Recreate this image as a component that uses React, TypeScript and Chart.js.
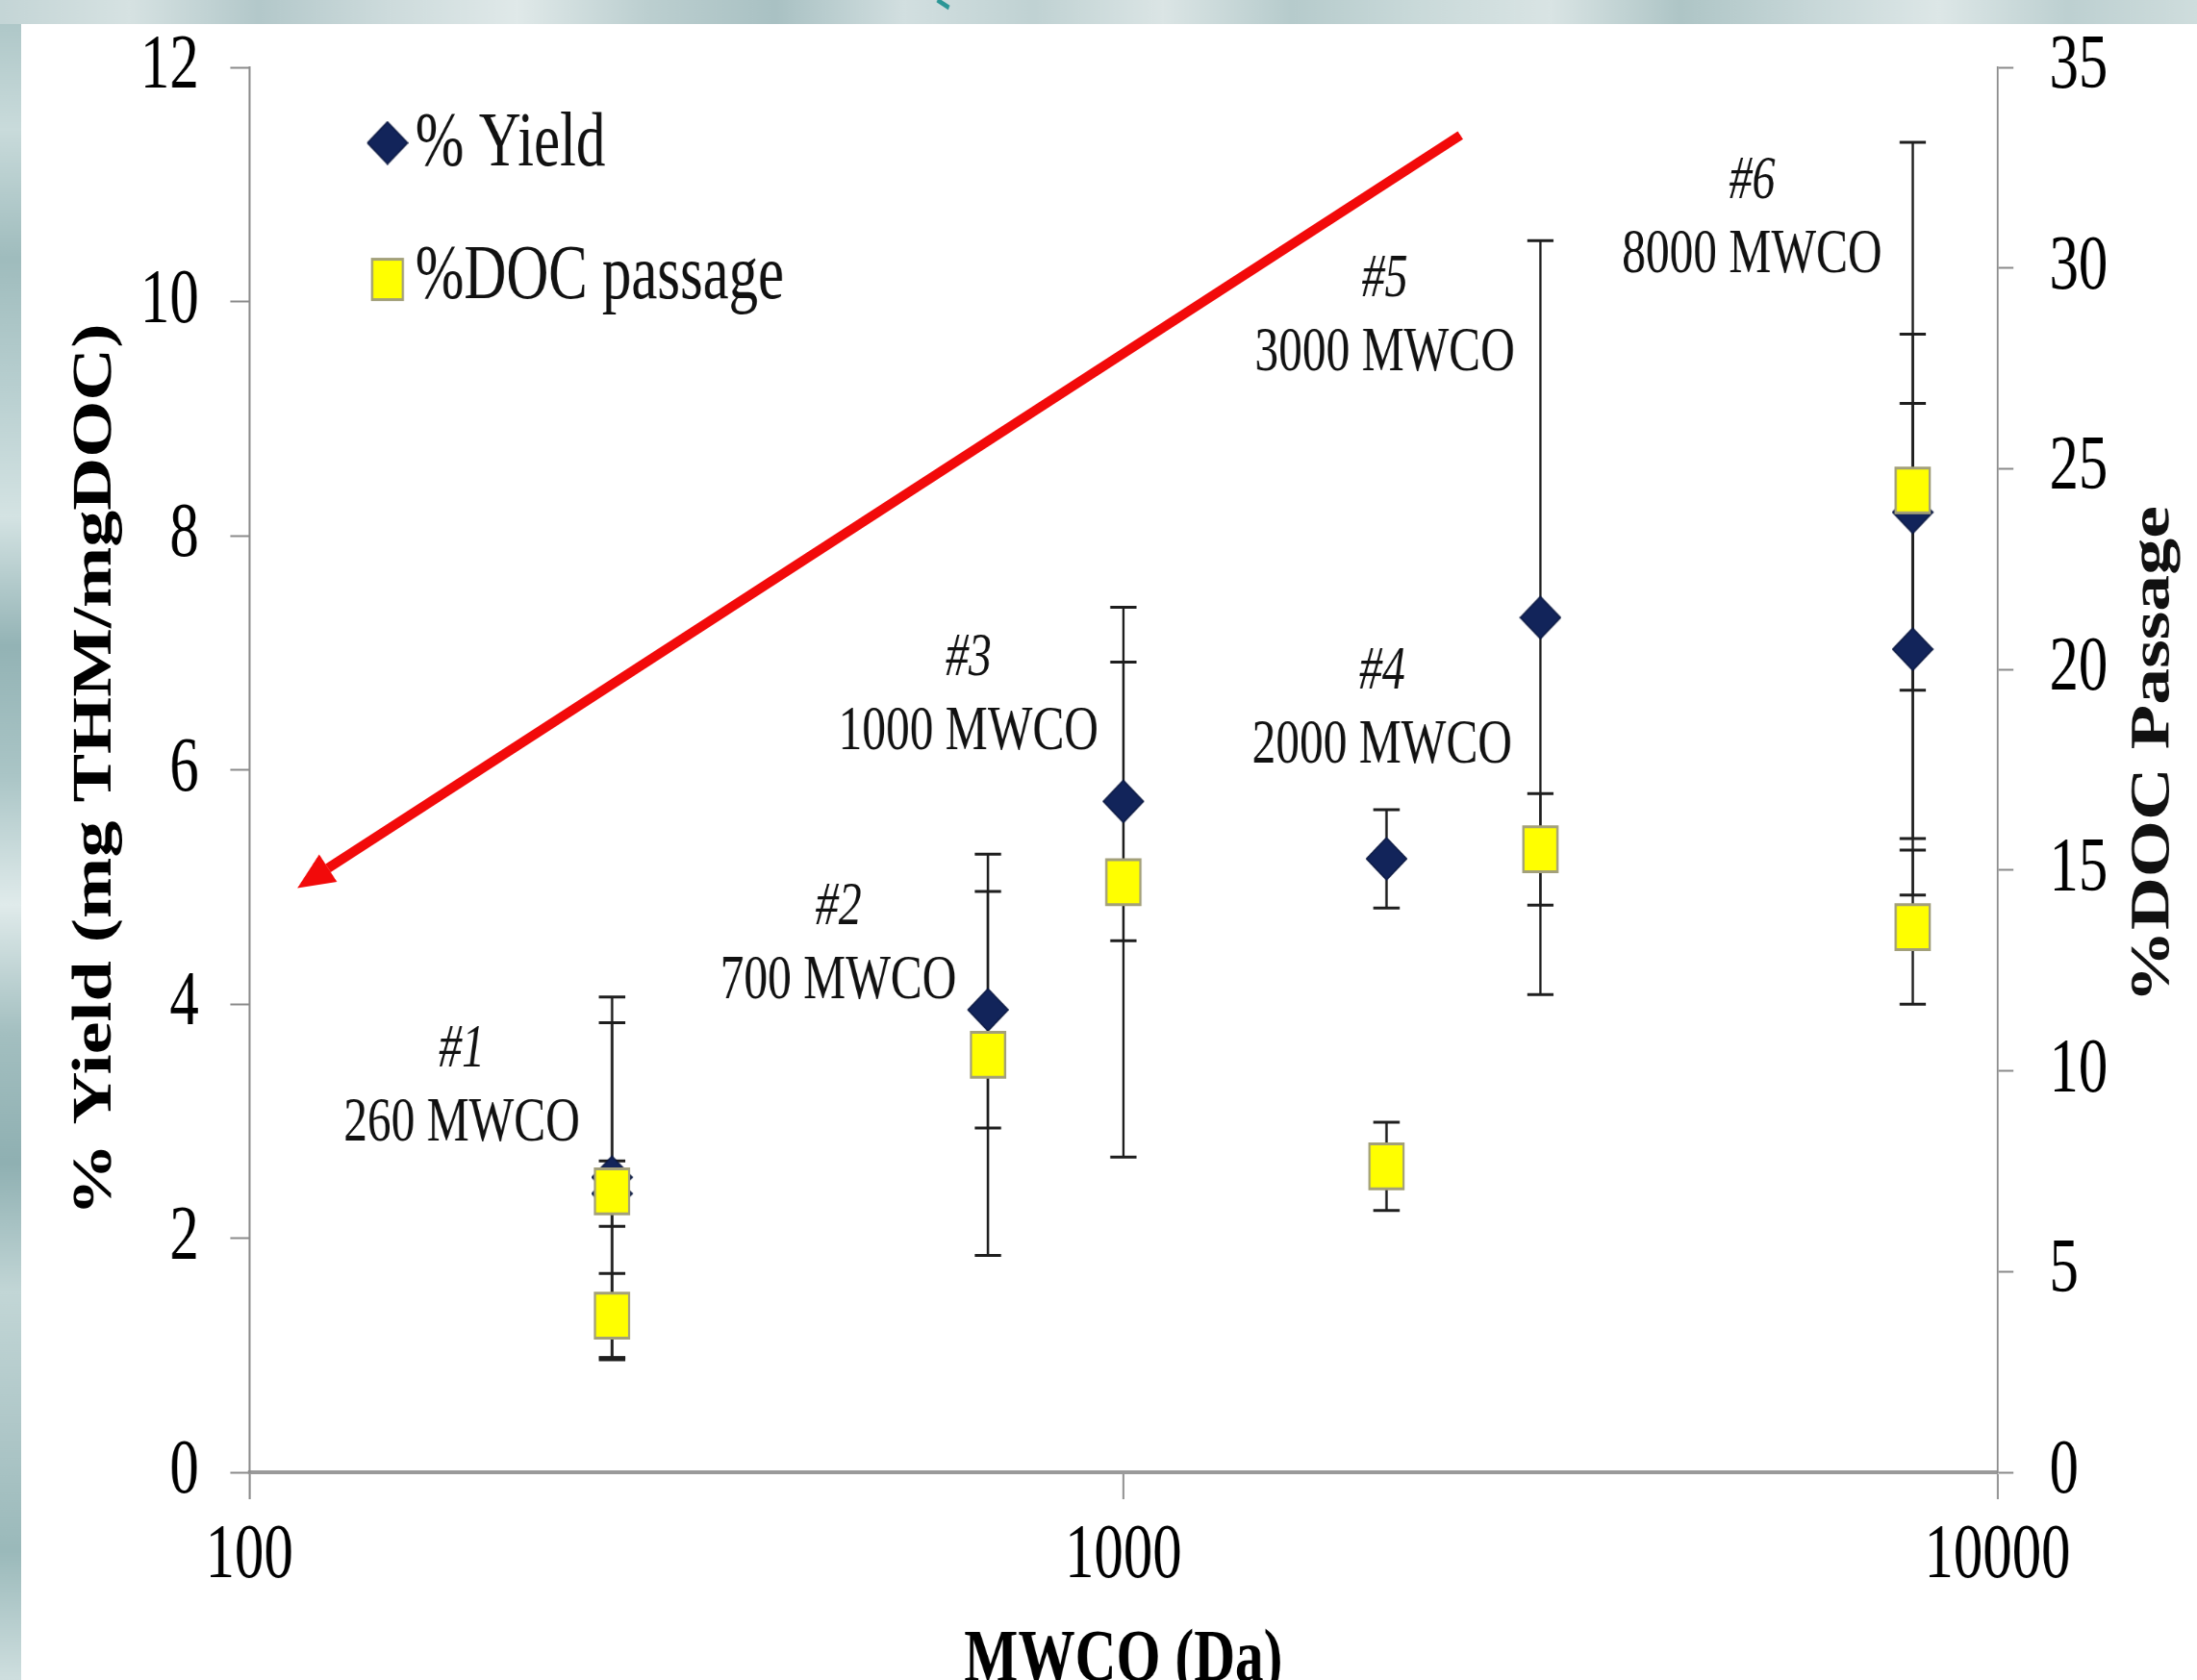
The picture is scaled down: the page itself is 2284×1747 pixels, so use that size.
import React, { useEffect, useRef } from 'react';
import { Chart, registerables } from 'chart.js';

Chart.register(...registerables);

const SERIF = '"Liberation Serif", "Times New Roman", Times, serif';

// The picture is horizontally condensed: draw on a wider canvas and squeeze it.
const CANVAS_W = 3005;
const CANVAS_H = 1747;
const SHOW_W = 2284;

// ---------------- data ----------------
const yieldMwco = [260, 260, 700, 1000, 2000, 3000, 8000, 8000];
const yieldPercent = [2.52, 2.38, 3.95, 5.73, 5.24, 7.3, 8.2, 7.03];
const yieldError = [1.54, 0.28, 1.01, 1.19, 0.42, 3.22, 1.52, 2.1];

const docMwco = [260, 260, 700, 1000, 2000, 3000, 8000, 8000];
const docPassage = [7.0, 3.9, 10.4, 14.7, 7.62, 15.52, 24.46, 13.58];
const docError = [4.2, 1.05, 5.0, 6.85, 1.1, 1.39, 8.67, 1.92];

const xTickValues = [100, 1000, 10000];

const membraneIds = ['#1', '#2', '#3', '#4', '#5', '#6'];
const membraneNames = ['260 MWCO', '700 MWCO', '1000 MWCO', '2000 MWCO', '3000 MWCO', '8000 MWCO'];

// annotation placement (data coordinates of the "MWCO" line baseline)
const labelPlacement = [
  { x: 175, y: 2.83 },
  { x: 472, y: 4.05 },
  { x: 665, y: 6.18 },
  { x: 1977, y: 6.06 },
  { x: 1991, y: 9.41 },
  { x: 5240, y: 10.25 },
];
const arrowPlacement = { from: { x: 2430, y: 11.42 }, to: { x: 113.5, y: 4.99 } };

const topTexture = ['#c4d5d6', '#d6e2e2', '#b3c8ca', '#cddbdc', '#e0e9e9', '#bccfd0', '#a9c1c3', '#d2dfe0', '#c0d2d3', '#dbe5e5', '#b6cbcc', '#cadada', '#d9e4e4', '#aec5c6', '#c7d7d8', '#dde7e7', '#bdd0d1', '#cfdddd'];
const leftTexture = ['#a9c3c4', '#c9dbdb', '#9fbcbd', '#b8cfd0', '#d4e3e3', '#93b3b5', '#aac5c6', '#e0ebeb', '#a3bfc0', '#8fb0b2', '#c2d6d6', '#b0c8c9', '#9ab9ba', '#cfdfdf'];

function makeDiamond(w: number, h: number, fill: string, stroke: string) {
  const c = document.createElement('canvas');
  c.width = w;
  c.height = h;
  const g = c.getContext('2d')!;
  g.beginPath();
  g.moveTo(w / 2, 1);
  g.lineTo(w - 1, h / 2);
  g.lineTo(w / 2, h - 1);
  g.lineTo(1, h / 2);
  g.closePath();
  g.fillStyle = fill;
  g.fill();
  g.strokeStyle = stroke;
  g.lineWidth = 1.5;
  g.stroke();
  return c;
}

const backgroundPlugin = {
  id: 'slideBackground',
  beforeDraw(chart: any) {
    const { ctx, width, height } = chart;
    ctx.save();
    const top = ctx.createLinearGradient(0, 0, width, 0);
    topTexture.forEach((c, i) => top.addColorStop(i / (topTexture.length - 1), c));
    ctx.fillStyle = top;
    ctx.fillRect(0, 0, width, height);
    const left = ctx.createLinearGradient(0, 0, 0, height);
    leftTexture.forEach((c, i) => left.addColorStop(i / (leftTexture.length - 1), c));
    ctx.fillStyle = left;
    ctx.fillRect(0, 25, 29, height);
    ctx.fillStyle = '#ffffff';
    ctx.fillRect(29, 25, width - 29, height - 25);
    ctx.strokeStyle = '#2b9696';
    ctx.lineWidth = 5;
    ctx.beginPath();
    ctx.moveTo(1282, 0);
    ctx.lineTo(1298, 8);
    ctx.stroke();
    ctx.restore();
  },
};

const errorBarPlugin = {
  id: 'errorBars',
  beforeDatasetsDraw(chart: any) {
    const { ctx } = chart;
    const xs = chart.scales.x;
    ctx.save();
    ctx.strokeStyle = '#1e1e1e';
    chart.data.datasets.forEach((ds: any) => {
      const ys = chart.scales[ds.yAxisID];
      ds.data.forEach((pt: any, i: number) => {
        const e = ds.errorBars[i];
        const px = xs.getPixelForValue(pt.x);
        const t = ys.getPixelForValue(pt.y + e);
        const b = ys.getPixelForValue(pt.y - e);
        ctx.lineWidth = 3.2;
        ctx.beginPath();
        ctx.moveTo(px, t);
        ctx.lineTo(px, b);
        ctx.stroke();
        ctx.lineWidth = 3;
        ctx.beginPath();
        ctx.moveTo(px - 18, t);
        ctx.lineTo(px + 18, t);
        ctx.moveTo(px - 18, b);
        ctx.lineTo(px + 18, b);
        ctx.stroke();
      });
    });
    ctx.restore();
  },
};

const annotationPlugin = {
  id: 'annotations',
  afterDraw(chart: any) {
    const { ctx, chartArea } = chart;
    const xs = chart.scales.x;
    const ys = chart.scales.y;
    ctx.save();

    // membrane labels
    ctx.fillStyle = '#111';
    ctx.textAlign = 'center';
    ctx.textBaseline = 'alphabetic';
    labelPlacement.forEach((p, i) => {
      const px = xs.getPixelForValue(p.x);
      const py = ys.getPixelForValue(p.y);
      ctx.font = `italic 63px ${SERIF}`;
      ctx.fillText(membraneIds[i], px, py - 77);
      ctx.font = `65px ${SERIF}`;
      ctx.fillText(membraneNames[i], px, py);
    });

    // legend
    const legendRows = [148.6, 290.6];
    const baselines = [172, 310];
    chart.data.datasets.forEach((ds: any, i: number) => {
      const cx = 530;
      const cy = legendRows[i];
      if (ds.pointStyle && typeof ds.pointStyle === 'object') {
        const img = ds.pointStyle;
        ctx.drawImage(img, cx - img.width / 2, cy - img.height / 2);
      } else {
        ctx.fillStyle = ds.backgroundColor;
        ctx.strokeStyle = ds.borderColor;
        ctx.lineWidth = 3;
        ctx.fillRect(cx - 21, cy - 21, 42, 42);
        ctx.strokeRect(cx - 21, cy - 21, 42, 42);
      }
      ctx.fillStyle = '#111';
      ctx.textAlign = 'left';
      ctx.font = `80px ${SERIF}`;
      ctx.fillText(ds.label, 568, baselines[i]);
    });

    // right axis title (reads bottom to top)
    const y2 = chart.scales.y2;
    ctx.save();
    ctx.translate(2946, (chartArea.top + chartArea.bottom) / 2 - 16);
    ctx.rotate(-Math.PI / 2);
    ctx.font = `bold 76px ${SERIF}`;
    ctx.textAlign = 'center';
    ctx.textBaseline = 'middle';
    ctx.fillStyle = '#111';
    ctx.fillText(y2.options.title.text, 0, 0);
    ctx.restore();

    // red arrow, drawn in display space
    const k = SHOW_W / CANVAS_W;
    const X0 = xs.getPixelForValue(arrowPlacement.from.x) * k;
    const Y0 = ys.getPixelForValue(arrowPlacement.from.y);
    const X1 = xs.getPixelForValue(arrowPlacement.to.x) * k;
    const Y1 = ys.getPixelForValue(arrowPlacement.to.y);
    const ang = Math.atan2(Y1 - Y0, X1 - X0);
    const headLen = 38;
    const headHalf = 17;
    const bx = X1 - headLen * Math.cos(ang);
    const by = Y1 - headLen * Math.sin(ang);
    ctx.save();
    ctx.scale(1 / k, 1);
    ctx.strokeStyle = '#f20a0a';
    ctx.fillStyle = '#f20a0a';
    ctx.lineWidth = 10;
    ctx.beginPath();
    ctx.moveTo(X0, Y0);
    ctx.lineTo(bx, by);
    ctx.stroke();
    ctx.beginPath();
    ctx.moveTo(X1, Y1);
    ctx.lineTo(bx + headHalf * Math.sin(ang), by - headHalf * Math.cos(ang));
    ctx.lineTo(bx - headHalf * Math.sin(ang), by + headHalf * Math.cos(ang));
    ctx.closePath();
    ctx.fill();
    ctx.restore();

    ctx.restore();
  },
};

function fixVertical(width: number) {
  return (scale: any) => {
    scale.width = width;
    scale.paddingTop = 0;
    scale.paddingBottom = 0;
  };
}

export default function App() {
  const ref = useRef<HTMLCanvasElement>(null);

  useEffect(() => {
    document.body.style.margin = '0';
    document.body.style.overflow = 'hidden';
    const canvas = ref.current;
    if (!canvas) return;
    const diamond = makeDiamond(57, 46, '#12245a', '#0a173f');

    const chart = new Chart(canvas, {
      type: 'scatter',
      data: {
        datasets: [
          {
            label: '% Yield',
            data: yieldMwco.map((x, i) => ({ x, y: yieldPercent[i] })),
            yAxisID: 'y',
            pointStyle: diamond as any,
            pointRadius: 24,
            order: 1,
            errorBars: yieldError,
          } as any,
          {
            label: '%DOC passage',
            data: docMwco.map((x, i) => ({ x, y: docPassage[i] })),
            yAxisID: 'y2',
            pointStyle: 'rect',
            pointRadius: 33,
            backgroundColor: '#ffff00',
            borderColor: '#a3a07a',
            borderWidth: 3,
            order: 0,
            errorBars: docError,
          } as any,
        ],
      },
      options: {
        responsive: false,
        devicePixelRatio: 1,
        animation: false,
        events: [],
        layout: { autoPadding: false, padding: { top: 70, left: 0, right: 0, bottom: 0 } },
        plugins: {
          legend: { display: false },
          tooltip: { enabled: false },
        },
        scales: {
          x: {
            type: 'logarithmic',
            position: 'bottom',
            min: 100,
            max: 10000,
            afterBuildTicks: (scale: any) => {
              scale.ticks = xTickValues.map((v) => ({ value: v }));
            },
            afterFit: (scale: any) => {
              scale.height = 216;
              scale.paddingLeft = 0;
              scale.paddingRight = 0;
            },
            ticks: {
              callback: (v: any) => String(v),
              autoSkip: false,
              maxRotation: 0,
              minRotation: 0,
              color: '#000',
              padding: 12,
              font: { family: SERIF, size: 80 },
            },
            grid: { drawOnChartArea: false, drawTicks: true, tickLength: 28, tickColor: '#8a8a8a', tickWidth: 2.6 },
            border: { display: true, color: '#9a9a9a', width: 4 },
            title: {
              display: true,
              text: 'MWCO (Da)',
              color: '#000',
              font: { family: SERIF, size: 78, weight: 'bold', lineHeight: 0.5 },
              padding: { top: 0, bottom: 0 },
            },
          },
          y: {
            type: 'linear',
            position: 'left',
            min: 0,
            max: 12,
            afterFit: fixVertical(341),
            ticks: { stepSize: 2, autoSkip: false, color: '#000', padding: 43, font: { family: SERIF, size: 80 } },
            grid: { drawOnChartArea: false, drawTicks: true, tickLength: 26, tickColor: '#8a8a8a', tickWidth: 2 },
            border: { display: true, color: '#8c8c8c', width: 2.6 },
            title: {
              display: true,
              text: '% Yield (mg THM/mgDOC)',
              color: '#000',
              font: { family: SERIF, size: 76, weight: 'bold' },
              padding: { top: 86, bottom: 0 },
            },
          },
          y2: {
            type: 'linear',
            position: 'right',
            min: 0,
            max: 35,
            afterFit: fixVertical(273),
            ticks: { stepSize: 5, autoSkip: false, color: '#000', padding: 49, font: { family: SERIF, size: 80 } },
            grid: { drawOnChartArea: false, drawTicks: true, tickLength: 22, tickColor: '#8a8a8a', tickWidth: 2 },
            border: { display: true, color: '#8c8c8c', width: 2.6 },
            title: { display: false, text: '%DOC Passage' },
          },
        },
      } as any,
      plugins: [backgroundPlugin, errorBarPlugin, annotationPlugin],
    });

    return () => chart.destroy();
  }, []);

  return (
    <canvas
      ref={ref}
      width={CANVAS_W}
      height={CANVAS_H}
      style={{ display: 'block', position: 'absolute', left: 0, top: 0, width: SHOW_W + 'px', height: CANVAS_H + 'px' }}
    />
  );
}
